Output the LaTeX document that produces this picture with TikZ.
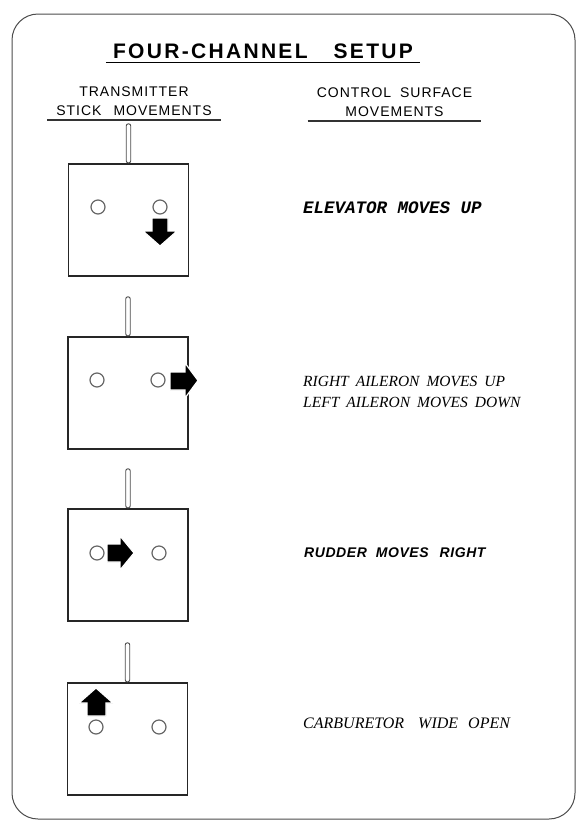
\documentclass[tikz,border=0pt]{standalone}
\usepackage{fontspec}
\setmainfont{Liberation Serif}
\setsansfont{Liberation Sans}
\setmonofont{Liberation Mono}
\usetikzlibrary{positioning}

\begin{document}
\begin{tikzpicture}[x=1pt, y=-1pt,
  txbox/.style={draw=black!85,line width=1.4pt,minimum width=120pt,minimum height=112pt,inner sep=0pt},
  antbox/.style={draw=black!70,line width=0.9pt,rounded corners=2pt,minimum width=4.5pt,minimum height=39pt,inner sep=0pt,anchor=south},
  knob/.style={circle,draw=black!60,line width=1.2pt,minimum size=14pt,inner sep=0pt},
  blockarrow/.style={fill=black,draw=white,line width=1.2pt},
  hdline/.style={draw=black!80,line width=1.1pt},
  hdtext/.style={font=\sffamily\fontsize{14}{19}\selectfont\addfontfeatures{LetterSpace=7},align=center,inner xsep=9pt,inner ysep=4pt,anchor=south},
  lbl/.style={anchor=west,inner sep=0pt,align=left}]
\useasboundingbox (0,0) rectangle (576,820);
% outer frame
\draw[draw=black!70,line width=1pt,rounded corners=26pt] (12,14) rectangle (575,819);
% headings
\node[font=\sffamily\bfseries\fontsize{21}{25}\selectfont\addfontfeatures{LetterSpace=11},inner xsep=7pt,anchor=base] (title) at (263,58) {FOUR-CHANNEL\hspace{26pt}SETUP};
\draw[line width=1.8pt] ([yshift=-4.5pt]title.base west) -- ([yshift=-4.5pt]title.base east);
\node[hdtext] (hdtx) at (134,120) {TRANSMITTER\\STICK\hspace{12pt}MOVEMENTS};
\node[hdtext] (hdcs) at (394.5,121) {CONTROL\hspace{9pt}SURFACE\\MOVEMENTS};
\draw[hdline] (hdtx.south west) -- (hdtx.south east);
\draw[hdline] (hdcs.south west) -- (hdcs.south east);
% elevator
\begin{scope}[shift={(0,164)}]
\node[txbox] (tx1) at (128.5,56) {};
\node[antbox] (ant1) at (tx1.north) {};
\node[knob] (k1l) at (98,43) {};
\node[knob] (k1r) at (160,43) {};
\filldraw[blockarrow] (152,54) -- (168,54) -- (168,67) -- (177,67) -- (160,82) -- (143,67) -- (152,67) -- cycle;
\node[lbl,font=\ttfamily\bfseries\itshape\fontsize{17.5}{20}\selectfont] (lbl1) at (303,44) {ELEVATOR MOVES UP};
\end{scope}
% aileron
\begin{scope}[shift={(0,337)}]
\node[txbox] (tx2) at (128,56) {};
\node[antbox] (ant2) at (tx2.north) {};
\node[knob] (k2l) at (97,43) {};
\node[knob] (k2r) at (158,43) {};
\filldraw[blockarrow] (170,35) -- (185,35) -- (185,26) -- (198,43.5) -- (185,61) -- (185,53) -- (170,53) -- cycle;
\node[lbl,font=\rmfamily\itshape\fontsize{15.5}{21}\selectfont] (lbl2) at (303,54.5) {RIGHT\hspace{7pt}AILERON\hspace{7pt}MOVES\hspace{7pt}UP\\LEFT\hspace{7pt}AILERON\hspace{7pt}MOVES\hspace{7pt}DOWN};
\end{scope}
% rudder
\begin{scope}[shift={(0,509)}]
\node[txbox] (tx3) at (128,56) {};
\node[antbox] (ant3) at (tx3.north) {};
\node[knob] (k3l) at (97,44) {};
\node[knob] (k3r) at (159,44) {};
\filldraw[blockarrow] (107,35) -- (120,35) -- (120,27) -- (134,44) -- (120,61) -- (120,53) -- (107,53) -- cycle;
\node[lbl,font=\sffamily\bfseries\itshape\fontsize{14}{16}\selectfont\addfontfeatures{LetterSpace=4}] (lbl3) at (304,44) {RUDDER\hspace{9pt}MOVES\hspace{11pt}RIGHT};
\end{scope}
% throttle
\begin{scope}[shift={(0,683)}]
\node[txbox] (tx4) at (127.5,56) {};
\node[antbox] (ant4) at (tx4.north) {};
\node[knob] (k4l) at (96,44) {};
\node[knob] (k4r) at (159,44) {};
\filldraw[blockarrow] (87,33) -- (87,20) -- (79,20) -- (96,5) -- (113,20) -- (106,20) -- (106,33) -- cycle;
\node[lbl,font=\rmfamily\itshape\fontsize{16}{20}\selectfont] (lbl4) at (303,40) {CARBURETOR\hspace{14pt}WIDE\hspace{10pt}OPEN};
\end{scope}
\end{tikzpicture}
\end{document}
